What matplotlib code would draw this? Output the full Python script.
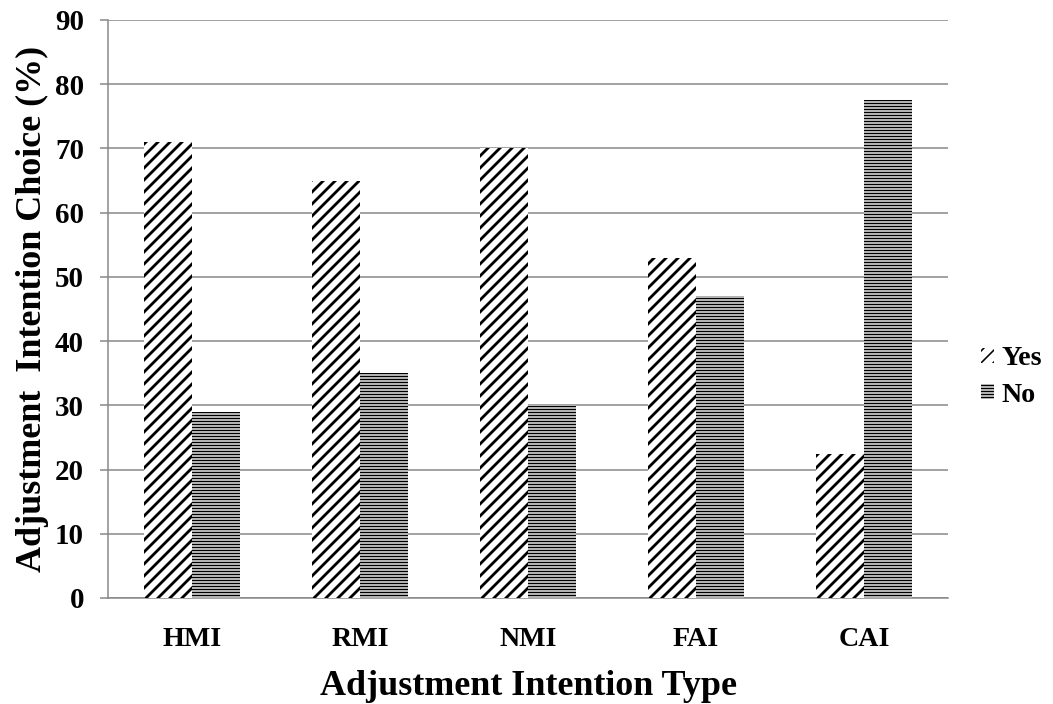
import matplotlib
matplotlib.use("Agg")
import matplotlib.pyplot as plt
import numpy as np

# percentages per adjustment intention type
categories = ["HMI", "RMI", "NMI", "FAI", "CAI"]
yes_pct = [71, 65, 70, 53, 22.5]
no_pct = [29, 35, 30, 47, 77.5]

plt.rcParams['font.family'] = ['Liberation Serif', 'DejaVu Serif']
plt.rcParams['font.weight'] = 'bold'

# dpi 72 keeps the hatch tile at 72 px, so '//' gives a 12 px stripe period
fig = plt.figure(figsize=(1053 / 72, 704 / 72), dpi=72)
ax = fig.add_axes([108 / 1053, 1 - 598 / 704, 840 / 1053, 578 / 704])

x = np.arange(len(categories))
w = 48 / 168
grid_gray = '#868686'

plt.rcParams['hatch.linewidth'] = 2.8
b1 = ax.bar(x - w / 2, yes_pct, w, color='white', edgecolor='black',
            linewidth=0, hatch='//', label='Yes', zorder=3)
plt.rcParams['hatch.linewidth'] = 1.6
b2 = ax.bar(x + w / 2, no_pct, w, color='white', edgecolor='black',
            linewidth=0, hatch='----', label='No', zorder=3)
for bars, lw in ((b1, 2.8), (b2, 1.6)):
    for p in bars:
        if hasattr(p, 'set_hatch_linewidth'):
            p.set_hatch_linewidth(lw)

ax.set_xlim(-0.5, 4.5)
ax.set_ylim(0, 90)
ax.set_yticks(np.arange(0, 91, 10))
ax.set_xticks(x)
ax.set_xticklabels(categories)
ax.yaxis.grid(True, color=grid_gray, linewidth=1.5, zorder=0)
ax.set_axisbelow(True)

for side in ('top', 'right'):
    ax.spines[side].set_visible(False)
for side in ('left', 'bottom'):
    ax.spines[side].set_color(grid_gray)
    ax.spines[side].set_linewidth(1.5)

ax.tick_params(axis='y', length=8, width=1.5, color=grid_gray, labelsize=29, pad=16)
ax.tick_params(axis='x', length=0, labelsize=28, pad=29)

ax.set_xlabel('Adjustment Intention Type', fontsize=36, fontweight='bold', labelpad=18)
ax.set_ylabel('Adjustment  Intention Choice (%)', fontsize=36, fontweight='bold', labelpad=6)

fig.legend(handles=[b1, b2], loc='center left', bbox_to_anchor=(981 / 1053, 1 - 377 / 704),
           frameon=False, fontsize=28, handlelength=0.45, handleheight=0.45,
           handletextpad=0.3, labelspacing=0.4, borderpad=0, borderaxespad=0)

fig.savefig('out.png', dpi=72)
